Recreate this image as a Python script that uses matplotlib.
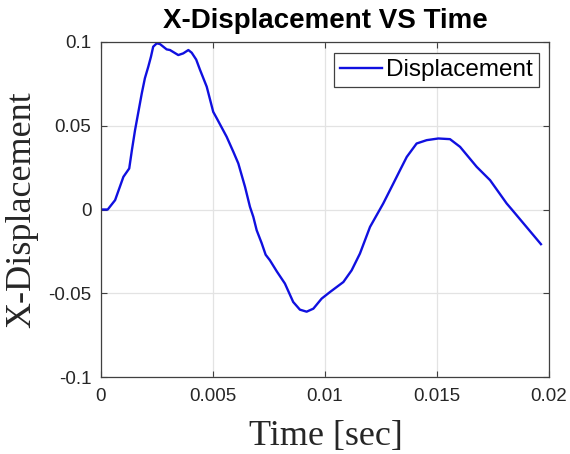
import matplotlib
matplotlib.use("Agg")
import matplotlib.pyplot as plt

# data (time in sec, displacement)
t = [0, 0.0003, 0.00063, 0.001, 0.00126, 0.00138, 0.00152, 0.00182, 0.00196,
     0.00211, 0.00223, 0.00233, 0.00249, 0.00263, 0.00293, 0.00308, 0.00345,
     0.00367, 0.0039, 0.00405, 0.00425, 0.00442, 0.00472, 0.00501, 0.00517,
     0.00561, 0.00591, 0.00613, 0.00643, 0.00665, 0.0068, 0.00695, 0.00717,
     0.00735, 0.00754, 0.00785, 0.00821, 0.00858, 0.00888, 0.00918, 0.00948,
     0.00985, 0.01022, 0.01082, 0.01119, 0.01156, 0.01201, 0.0126, 0.01305,
     0.01335, 0.01365, 0.01409, 0.01454, 0.01506, 0.01558, 0.01603, 0.01677,
     0.01737, 0.01811, 0.01834, 0.01964]
disp = [0, 0, 0.0056, 0.0195, 0.0245, 0.0355, 0.0474, 0.0693, 0.0784,
        0.0852, 0.0912, 0.0972, 0.0992, 0.0988, 0.0956, 0.0952, 0.0922,
        0.0932, 0.0952, 0.0936, 0.0895, 0.0834, 0.0733, 0.0583, 0.0544,
        0.0434, 0.0344, 0.0275, 0.0135, 0.0016, -0.0044, -0.0124, -0.0200,
        -0.0270, -0.0303, -0.0370, -0.0442, -0.0552, -0.0598, -0.0610, -0.0592,
        -0.0532, -0.0493, -0.0433, -0.0363, -0.0263, -0.0104, 0.0036, 0.0155,
        0.0235, 0.0314, 0.0394, 0.0414, 0.0424, 0.0420, 0.0374, 0.0255,
        0.0175, 0.0036, 0.0, -0.0207]

xticks = [0, 0.005, 0.01, 0.015, 0.02]
xlabels = ["0", "0.005", "0.01", "0.015", "0.02"]
yticks = [-0.1, -0.05, 0, 0.05, 0.1]
ylabels = ["-0.1", "-0.05", "0", "0.05", "0.1"]

plt.rcParams['font.family'] = ['Liberation Sans', 'DejaVu Sans']

fig = plt.figure(figsize=(5.7, 4.54), dpi=100)
ax = fig.add_axes([101/570, 1 - 377/454, 448/570, 335/454])

ax.plot(t, disp, color="#1010e0", lw=1.7, label="Displacement",
        solid_joinstyle="round")

ax.set_xlim(0, 0.02)
ax.set_ylim(-0.1, 0.1)
ax.set_xticks(xticks)
ax.set_xticklabels(xlabels)
ax.set_yticks(yticks)
ax.set_yticklabels(ylabels)
ax.grid(True, color="#e3e3e3", lw=0.9)
ax.set_axisbelow(True)
ax.tick_params(direction="in", length=4, width=0.8, colors="#404040",
               labelcolor="#262626", labelsize=13.5, top=True, right=True)
ax.tick_params(axis="x", pad=8)
ax.tick_params(axis="y", pad=7)
for s in ax.spines.values():
    s.set_color("#404040")
    s.set_linewidth(0.9)

ax.set_title("X-Displacement VS Time", fontsize=20, fontweight="bold", pad=10)
fig.text(22/570, 1 - 210/454, "X-Displacement", rotation=90, ha="center", va="center",
         family="Liberation Serif", fontsize=26, color="#262626")
fig.text(325.5/570, 1 - 445/454, "Time [sec]", ha="center", va="baseline",
         family="Liberation Serif", fontsize=26, color="#262626")

leg = ax.legend(loc="upper right", bbox_to_anchor=(0.977, 0.9663), borderaxespad=0,
                fontsize=17.5, handlelength=1.75, handletextpad=0.15,
                borderpad=0.25, fancybox=False, framealpha=1)
leg.get_frame().set_edgecolor("#404040")
leg.get_frame().set_linewidth(0.9)

fig.savefig("out.png", dpi=100)
